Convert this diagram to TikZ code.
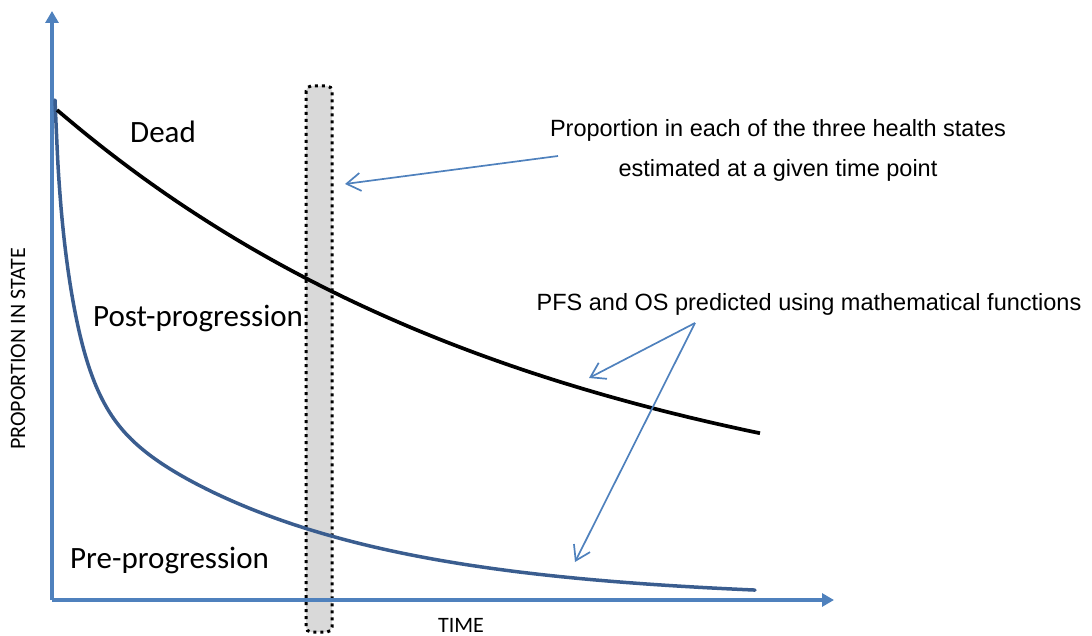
\documentclass[tikz,border=0pt]{standalone}
\usepackage{fontspec}
\usetikzlibrary{arrows.meta}
\newfontfamily\calibrifont{Carlito}
\newfontfamily\arialfont{Liberation Sans}
\definecolor{axisblue}{HTML}{4F81BD}
\definecolor{curveblue}{HTML}{3A5D8F}
\definecolor{barfill}{HTML}{D9D9D9}
\tikzset{
  axis/.style={axisblue, line width=3.5pt, -{Triangle[length=12pt,width=13pt]}},
  statelabel/.style={font=\calibrifont\fontsize{31}{36}\selectfont, inner sep=0pt, anchor=base west},
  note/.style={font=\arialfont\fontsize{23.5}{28}\selectfont, inner sep=0pt, anchor=base},
  axislabel/.style={font=\calibrifont\fontsize{22}{26}\selectfont, inner sep=0pt},
  pointer/.style={axisblue, line width=1.7pt, -{Straight Barb[length=14pt,width=18pt,line width=1.7pt]}},
  timebar/.style={draw=black, fill=barfill, line width=3pt, dash pattern=on 3pt off 4pt, rounded corners=5pt},
}
\begin{document}
\begin{tikzpicture}[x=1pt, y=-1pt]
\useasboundingbox (0,0) rectangle (1092,636);

% time point bar
\draw[timebar] (306,86) rectangle (332,632);

% axes
\coordinate (origin) at (52,600);
\coordinate (ytip) at (52,11);
\coordinate (xtip) at (834,600);
\draw[axis] (origin) -- (ytip);
\draw[axis] (origin) -- (xtip);

% progression-free survival curve (sum of three exponential decays)
\draw[curveblue, line width=3.5pt, line cap=round] plot[domain=55:755, samples=240, smooth]
  (\x, {600-230*exp(-0.04657*(\x-55))-215.5*exp(-0.004387*(\x-55))-54.5*exp(-0.3*(\x-55))});

% overall survival curve
\draw[black, line width=3.7pt] plot[domain=57:760, samples=60, smooth]
  (\x, {536.8-426.8*exp(-0.002021*(\x-57))});

% state labels
\node[statelabel] (dead) at (130,143) {Dead};
\node[statelabel] (post) at (93,326) {Post-progression};
\node[statelabel] (pre) at (70,568) {Pre-progression};

% axis labels
\node[axislabel, anchor=base] (time) at (461,632) {TIME};
\node[axislabel, rotate=90, anchor=base] (prop) at (25,349) {PROPORTION IN STATE};

% annotations
\node[note] (est1) at (778,137) {Proportion in each of the three health states};
\node[note] (est2) at (778,177) {estimated at a given time point};
\node[note] (pfs) at (809,311) {PFS and OS predicted using mathematical functions};

\coordinate (estfrom) at (558,156);
\coordinate (estto) at (345,184);
\coordinate (pfsfrom) at (695,323);
\coordinate (ostip) at (589,378);
\coordinate (pfstip) at (575,562);
\draw[pointer] (estfrom) -- (estto);
\draw[pointer] (pfsfrom) -- (ostip);
\draw[pointer] (pfsfrom) -- (pfstip);
\end{tikzpicture}
\end{document}
